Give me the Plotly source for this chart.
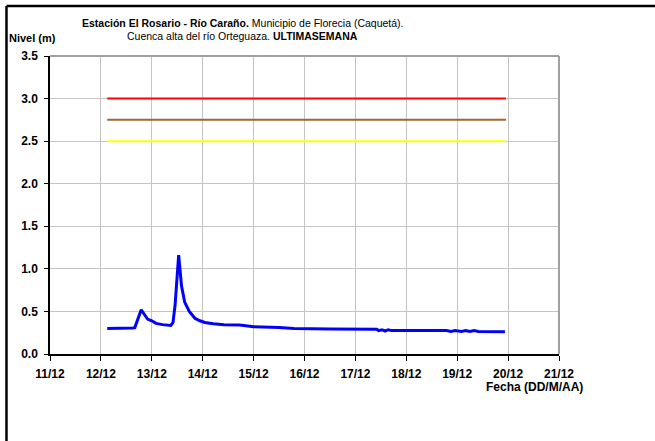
import plotly.graph_objects as go

# Water level readings (m) at the El Rosario station, Río Caraño
times = [
    "2015-12-12 03:00", "2015-12-12 08:00", "2015-12-12 13:00", "2015-12-12 15:00",
    "2015-12-12 16:00", "2015-12-12 19:00", "2015-12-12 22:00", "2015-12-13 00:00",
    "2015-12-13 02:00", "2015-12-13 05:00", "2015-12-13 09:00", "2015-12-13 10:00",
    "2015-12-13 11:00", "2015-12-13 12:40", "2015-12-13 14:00", "2015-12-13 15:30",
    "2015-12-13 17:40", "2015-12-13 20:20", "2015-12-13 22:40", "2015-12-14 01:00",
    "2015-12-14 05:00", "2015-12-14 10:00", "2015-12-14 17:30", "2015-12-14 20:00",
    "2015-12-15 00:00", "2015-12-15 12:00", "2015-12-15 19:00", "2015-12-16 12:00",
    "2015-12-17 00:00", "2015-12-17 10:00", "2015-12-17 11:00", "2015-12-17 12:30",
    "2015-12-17 14:00", "2015-12-17 15:30", "2015-12-17 17:00", "2015-12-18 12:00",
    "2015-12-18 19:00", "2015-12-18 21:00", "2015-12-18 23:00", "2015-12-19 02:00",
    "2015-12-19 04:00", "2015-12-19 06:00", "2015-12-19 08:00", "2015-12-19 10:00",
    "2015-12-19 16:00", "2015-12-19 22:30",
]
nivel = [
    0.30, 0.30, 0.30, 0.305,
    0.31, 0.52, 0.41, 0.39,
    0.36, 0.345, 0.335, 0.37,
    0.58, 1.16, 0.80, 0.61,
    0.50, 0.42, 0.39, 0.37,
    0.355, 0.345, 0.34, 0.33,
    0.32, 0.31, 0.30, 0.295,
    0.29, 0.29, 0.275, 0.285,
    0.27, 0.285, 0.275, 0.275,
    0.275, 0.265, 0.275, 0.265,
    0.275, 0.265, 0.275, 0.265,
    0.265, 0.26,
]

# Alert thresholds (m)
umbral_start = "2015-12-12 03:00"
umbral_end = "2015-12-19 23:00"
umbral_rojo = 3.0
umbral_naranja = 2.75
umbral_amarillo = 2.5

tick_dates = ["2015-12-%02d" % d for d in range(11, 22)]
tick_labels = ["%d/12" % d for d in range(11, 22)]
y_ticks = [0.0, 0.5, 1.0, 1.5, 2.0, 2.5, 3.0, 3.5]

FONT = "Liberation Sans, Arial, sans-serif"

fig = go.Figure()
for val, col in [(umbral_rojo, "#ff0000"), (umbral_naranja, "#a0662e"), (umbral_amarillo, "#ffff00")]:
    fig.add_trace(go.Scatter(
        x=[umbral_start, umbral_end], y=[val, val], mode="lines",
        line=dict(color=col, width=2), hoverinfo="skip", showlegend=False,
    ))
fig.add_trace(go.Scatter(
    x=times, y=nivel, mode="lines",
    line=dict(color="#0000ff", width=3), showlegend=False,
))

fig.update_layout(
    width=655, height=441,
    margin=dict(l=50, r=96, t=56, b=87),
    paper_bgcolor="white", plot_bgcolor="white",
    font=dict(family=FONT, size=11, color="black"),
    xaxis=dict(
        type="date", range=["2015-12-11", "2015-12-21"],
        tickvals=tick_dates, ticktext=tick_labels,
        tickfont=dict(size=12, weight="bold"),
        showgrid=True, gridcolor="#c4c4c4", gridwidth=1,
        showline=True, linecolor="black", linewidth=1.5,
        ticks="outside", ticklen=5, tickcolor="black", tickwidth=1,
        ticklabelstandoff=3,
        zeroline=False,
    ),
    yaxis=dict(
        range=[0, 3.5], tickvals=y_ticks, tickformat=".1f",
        tickfont=dict(size=12, weight="bold"),
        showgrid=True, gridcolor="#c4c4c4", gridwidth=1,
        showline=True, linecolor="black", linewidth=1.5,
        ticks="outside", ticklen=4, tickcolor="black", tickwidth=1,
        ticklabelstandoff=4,
        zeroline=False,
    ),
)

# Top and right frame of the plot area
fig.add_shape(type="line", xref="paper", yref="paper", x0=0, x1=1, y0=1, y1=1,
              line=dict(color="#a0a0a0", width=2))
fig.add_shape(type="line", xref="paper", yref="paper", x0=1, x1=1, y0=0, y1=1,
              line=dict(color="#a0a0a0", width=2))

# Outer black frame (left and top edges)
fig.add_shape(type="line", xref="paper", yref="paper", x0=-0.0855, x1=-0.0855, y0=-0.3, y1=1.168,
              line=dict(color="black", width=2.5))
fig.add_shape(type="line", xref="paper", yref="paper", x0=-0.0855, x1=1.2, y0=1.168, y1=1.168,
              line=dict(color="black", width=2.5))

fig.add_annotation(
    text="<b>Estación El Rosario - Río Caraño.</b> Municipio de Florecia (Caquetá).",
    xref="paper", yref="paper", x=0.379, y=1.111, showarrow=False,
    xanchor="center", yanchor="middle", font=dict(size=10.5),
)
fig.add_annotation(
    text="Cuenca alta del río Orteguaza. <b>ULTIMASEMANA</b>",
    xref="paper", yref="paper", x=0.379, y=1.067, showarrow=False,
    xanchor="center", yanchor="middle", font=dict(size=10.5),
)
fig.add_annotation(
    text="<b>Nivel (m)</b>", xref="paper", yref="paper", x=-0.035, y=1.060,
    showarrow=False, xanchor="center", yanchor="middle", font=dict(size=11),
)
fig.add_annotation(
    text="<b>Fecha (DD/M/AA)</b>", xref="paper", yref="paper", x=0.951, y=-0.111,
    showarrow=False, xanchor="center", yanchor="middle", font=dict(size=12),
)

fig.write_html("out.html")
